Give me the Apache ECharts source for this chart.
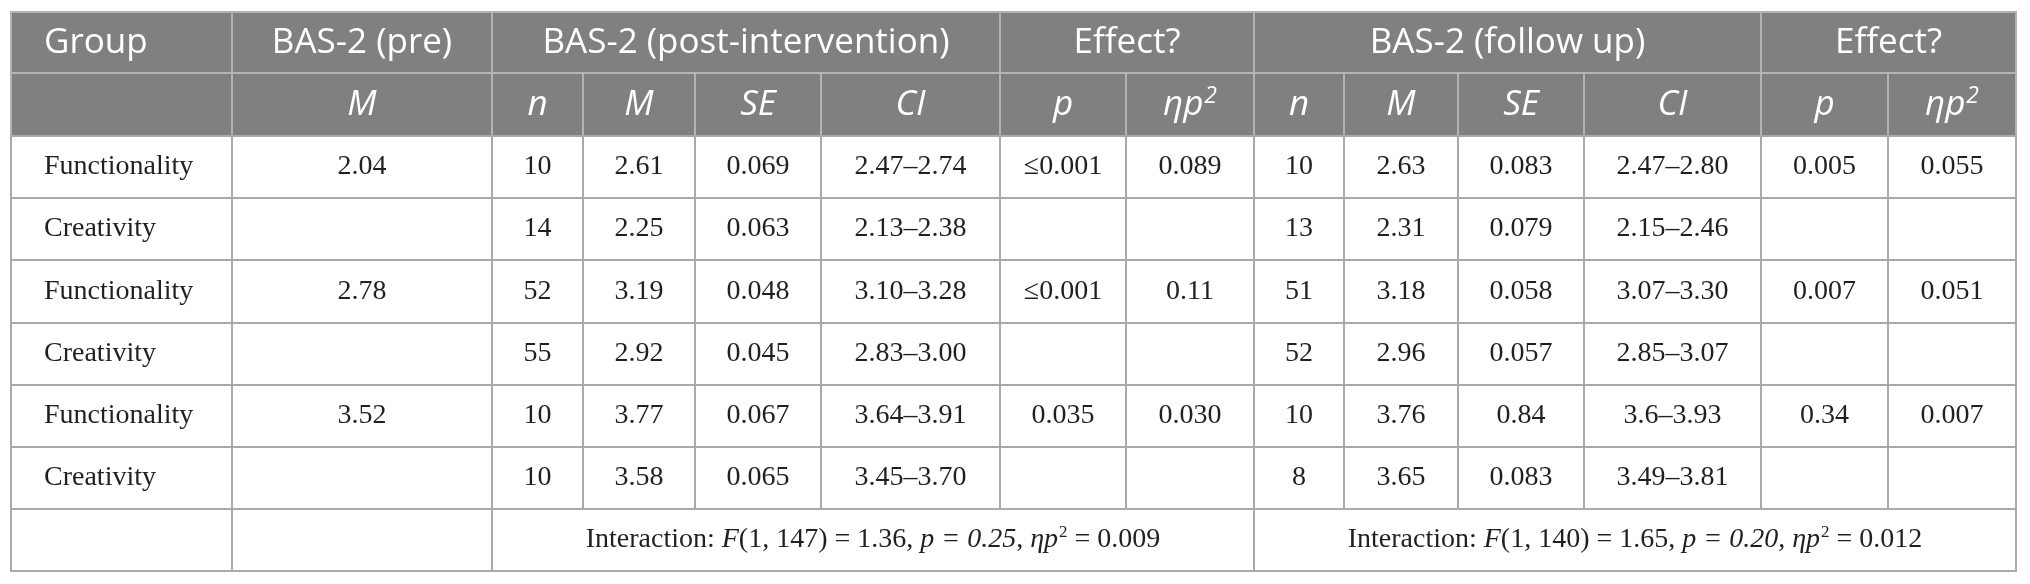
<!DOCTYPE html>
<html>
<head>
<meta charset="utf-8">
<script src="https://cdn.jsdelivr.net/npm/echarts@6/dist/echarts.min.js"></script>
<style>
  html, body { margin: 0; padding: 0; background: #fff; }
  #main { width: 2030px; height: 584px; }
</style>
</head>
<body>
<div id="main"></div>
<script>
// table values
var groups = ['Functionality', 'Creativity', 'Functionality', 'Creativity', 'Functionality', 'Creativity'];
var preM = ['2.04', '', '2.78', '', '3.52', ''];
var postN = ['10', '14', '52', '55', '10', '10'];
var postM = ['2.61', '2.25', '3.19', '2.92', '3.77', '3.58'];
var postSE = ['0.069', '0.063', '0.048', '0.045', '0.067', '0.065'];
var postCI = ['2.47–2.74', '2.13–2.38', '3.10–3.28', '2.83–3.00', '3.64–3.91', '3.45–3.70'];
var postP = ['≤0.001', '', '≤0.001', '', '0.035', ''];
var postEta = ['0.089', '', '0.11', '', '0.030', ''];
var fuN = ['10', '13', '51', '52', '10', '8'];
var fuM = ['2.63', '2.31', '3.18', '2.96', '3.76', '3.65'];
var fuSE = ['0.083', '0.079', '0.058', '0.057', '0.84', '0.083'];
var fuCI = ['2.47–2.80', '2.15–2.46', '3.07–3.30', '2.85–3.07', '3.6–3.93', '3.49–3.81'];
var fuP = ['0.005', '', '0.007', '', '0.34', ''];
var fuEta = ['0.055', '', '0.051', '', '0.007', ''];

var interactionDf = ['1, 147', '1, 140'];
var interactionF = ['1.36', '1.65'];
var interactionP = ['0.25', '0.20'];
var interactionEta = ['0.009', '0.012'];

var headerTop = ['Group', 'BAS-2 (pre)', 'BAS-2 (post-intervention)', 'Effect?', 'BAS-2 (follow up)', 'Effect?'];
var headerSub = ['', 'M', 'n', 'M', 'SE', 'CI', 'p', 'ηp{sup|2}', 'n', 'M', 'SE', 'CI', 'p', 'ηp{sup|2}'];

// layout (pixel edges of the columns / rows)
var COL_X = [11, 232, 492, 583, 695, 821, 1000, 1126, 1254, 1344, 1458, 1584, 1761, 1888, 2016];
var ROW_Y = [12, 73, 136, 198, 260, 323, 385, 447, 509, 571];
var topSpan = [1, 1, 4, 2, 4, 2];

var cells = [];
function addCell(text, c0, c1, r, kind) {
    cells.push({ value: [COL_X[c0], ROW_Y[r], COL_X[c1 + 1], ROW_Y[r + 1]], text: text, kind: kind, left: c0 === 0 });
}

var c = 0;
headerTop.forEach(function (t, i) {
    addCell(t, c, c + topSpan[i] - 1, 0, 'head');
    c += topSpan[i];
});
headerSub.forEach(function (t, i) {
    addCell(t, i, i, 1, 'sub');
});
groups.forEach(function (g, i) {
    var row = [g, preM[i], postN[i], postM[i], postSE[i], postCI[i], postP[i], postEta[i],
        fuN[i], fuM[i], fuSE[i], fuCI[i], fuP[i], fuEta[i]];
    row.forEach(function (t, j) {
        addCell(t, j, j, i + 2, 'body');
    });
});
addCell('', 0, 0, 8, 'body');
addCell('', 1, 1, 8, 'body');
[0, 1].forEach(function (k) {
    var t = 'Interaction: {i|F}(' + interactionDf[k] + ') = ' + interactionF[k] +
        ', {i|p = ' + interactionP[k] + '}, {i|ηp}{s|2} = ' + interactionEta[k];
    addCell(t, 2 + k * 6, 7 + k * 6, 8, 'body');
});

var SANS = '"Open Sans", "Noto Sans", sans-serif';
var SERIF = '"Liberation Serif", "DejaVu Serif", serif';

function renderItem(params, api) {
    var cell = cells[params.dataIndex];
    var p0 = api.coord([api.value(0), api.value(1)]);
    var p1 = api.coord([api.value(2), api.value(3)]);
    var head = cell.kind !== 'body';
    var tx = cell.left ? p0[0] + 33 : (p0[0] + p1[0]) / 2;
    var ty = (p0[1] + p1[1]) / 2;
    var textStyle;
    if (head) {
        textStyle = {
            text: cell.text, x: tx, y: ty + 1,
            align: cell.left ? 'left' : 'center', verticalAlign: 'middle',
            fill: '#ffffff', fontFamily: SANS, fontSize: 35,
            fontStyle: cell.kind === 'sub' ? 'italic' : 'normal',
            rich: {
                sup: { fontFamily: SANS, fontSize: 23, fontStyle: 'italic', fill: '#ffffff',
                    verticalAlign: 'bottom', padding: [0, 0, 18, 1] }
            }
        };
    } else {
        textStyle = {
            text: cell.text, x: tx, y: ty,
            align: cell.left ? 'left' : 'center', verticalAlign: 'middle',
            fill: '#231f20', fontFamily: SERIF, fontSize: 28,
            rich: {
                i: { fontFamily: SERIF, fontSize: 28, fontStyle: 'italic', fill: '#231f20' },
                s: { fontFamily: SERIF, fontSize: 17, fill: '#231f20',
                    verticalAlign: 'bottom', padding: [0, 0, 14, 1] }
            }
        };
    }
    return {
        type: 'group',
        children: [{
            type: 'rect',
            shape: { x: p0[0], y: p0[1], width: p1[0] - p0[0], height: p1[1] - p0[1] },
            style: { fill: head ? '#808080' : '#ffffff', stroke: head ? '#b3b3b3' : '#a9a9a9', lineWidth: 2 }
        }, {
            type: 'text',
            style: textStyle
        }]
    };
}

var chart = echarts.init(document.getElementById('main'), null, { renderer: 'canvas' });
var option = {
    animation: false,
    grid: { left: 0, right: 0, top: 0, bottom: 0 },
    xAxis: { type: 'value', min: 0, max: 2030, show: false },
    yAxis: { type: 'value', min: 0, max: 584, inverse: true, show: false },
    series: [{
        type: 'custom',
        renderItem: renderItem,
        data: cells,
        encode: { x: [0, 2], y: [1, 3] },
        silent: true
    }]
};
chart.setOption(option);
</script>
</body>
</html>
